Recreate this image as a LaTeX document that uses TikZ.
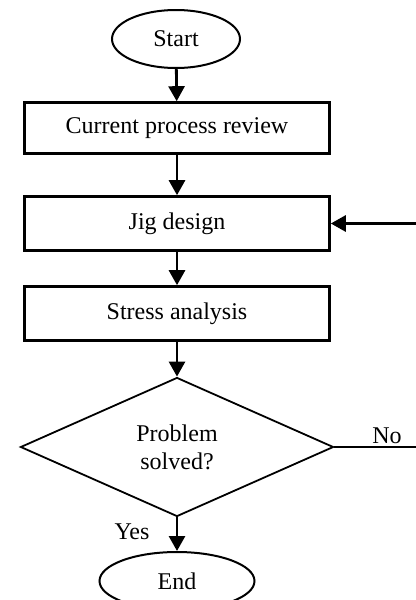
\documentclass[tikz,border=0pt]{standalone}
\usepackage{fontspec}
\setmainfont{Liberation Serif}
\usepackage{tikz}
\usetikzlibrary{positioning, shapes.geometric, arrows.meta}

\begin{document}
\begin{tikzpicture}[x=0.5pt, y=-0.5pt,
        font=\fontsize{12pt}{14pt}\selectfont,
        terminal/.style={draw, ellipse, line width=1pt, inner sep=0pt, minimum height=29pt},
        process/.style={draw, rectangle, line width=1.3pt, inner sep=0pt, minimum width=152.5pt},
        decision/.style={draw, diamond, line width=0.9pt, inner sep=0pt, align=center, minimum width=156.5pt, minimum height=69.5pt},
        flow/.style={-{Triangle[length=7.5pt, width=8pt]}, line width=1.4pt}]
        % Khung ảnh
        \useasboundingbox (0,0) rectangle (416,600);
        \clip (0,0) rectangle (416,600);

        % 1. Các khối của lưu đồ
        \node[terminal, minimum width=64pt] (start) at (176, 39) {Start};
        \node[process, minimum height=25.5pt] (review) at (177, 128) {Current process review};
        \node[process, minimum height=27pt] (jig) at (177, 223.5) {Jig design};
        \node[process, minimum height=27pt] (stress) at (177, 313.5) {Stress analysis};
        \node[decision] (solved) at (177, 447) {Problem\\solved?};
        \node[terminal, minimum width=77.5pt] (end) at (177, 581) {End};

        % 2. Nhãn rẽ nhánh
        \node (lbl_yes) at (132, 532) {Yes};
        \node (lbl_no) at (387, 436) {No};

        % Đầu tự do của đường quay lại (ngoài khung)
        \coordinate (back_no) at (416, 447);
        \coordinate (back_jig) at (416, 223.5);

        % 3. Các mũi tên
        \draw[flow] (start) -- (review);
        \draw[flow] (review) -- (jig);
        \draw[flow] (jig) -- (stress);
        \draw[flow] (stress) -- (solved.north);
        \draw[flow] (solved.south) -- (end);
        \draw[line width=0.9pt] (solved.east) -- (back_no);
        \draw[flow] (back_jig) -- (jig.east);
\end{tikzpicture}
\end{document}
